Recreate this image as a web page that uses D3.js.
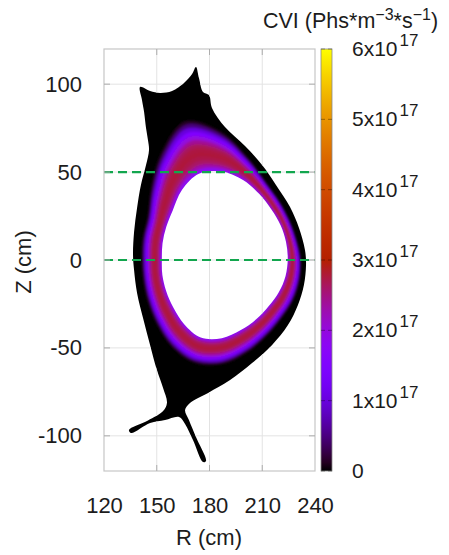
<!DOCTYPE html>
<html>
<head>
<meta charset="utf-8">
<script src="https://cdn.jsdelivr.net/npm/d3@7"></script>
<style>
  body { margin: 0; background: #fff; }
  text { font-family: "Liberation Sans", Arial, sans-serif; fill: #1c1c1c; }
</style>
</head>
<body>
<script>
// CVI emissivity, poloidal cross-section (R, Z in cm)

// axis ticks
var rTicks = [120, 150, 180, 210, 240];
var zTicks = [-100, -50, 0, 50, 100];
var cbTicks = [0, 1, 2, 3, 4, 5, 6];   /* units of 1e17 */
var chordZ = [0, 50];                   /* the two green lines */

// outer boundary of the black (zero emission) region, incl. divertor legs
var edgeR = [140.5, 146.2, 151.9, 158.7, 165.5, 170.1, 172.3, 174.0, 176.3, 179.7, 181.4, 188.8, 200.2, 209.9,
  217.8, 225.8, 230.9, 234.3, 234.9, 233.7, 230.3, 224.6, 215.6, 204.2, 191.7, 179.2, 168.9, 166.1,
  168.3, 172.3, 178.0, 176.3, 170.6, 166.1, 162.7, 154.7, 146.2, 135.4, 134.2, 145.0, 153.6, 155.8,
  153.6, 150.1, 146.2, 142.2, 138.8, 137.1, 136.5, 137.1, 138.8, 141.0, 143.9, 145.6, 145.0, 143.9, 142.8, 141.6];
var edgeZ = [98.4, 96.1, 95.0, 96.1, 100.7, 105.8, 109.8, 103.5, 95.6, 93.8, 86.5, 75.6, 64.8, 54.0,
  42.7, 30.1, 18.2, 5.7, -2.8, -14.2, -25.6, -37.0, -48.3, -58.6, -68.3, -75.6, -81.3, -85.3,
  -91.0, -100.7, -114.3, -114.9, -102.4, -93.3, -89.3, -91.0, -92.7, -98.4, -96.7, -91.3, -85.9, -81.3,
  -72.8, -62.6, -48.3, -33.0, -18.8, -5.7, 2.8, 15.9, 29.6, 42.7, 54.0, 62.6, 68.3, 75.1, 84.2, 91.0];

// emission shell around the axis, in polar form
var axisR = 187, axisZ = 0.5;
var ringAngle = [0, 15, 30, 45, 60, 75, 90, 105, 120, 135, 150, 165, 180, 195, 210, 225, 240, 255, 270, 285, 300, 315, 330, 345];
var coreRadius  = [37.5, 37.8, 38.6, 39.9, 42.7, 46.6, 49.8, 50.3, 45.4, 39.4, 36.5, 34.9, 34.1, 35.0, 36.5, 39.0, 42.8, 46.2, 45.0, 41.8, 39.4, 37.8, 37.5, 37.5];
var shellRadius = [45.0, 44.0, 44.5, 46.5, 50.5, 59.2, 72.2, 81.2, 69.3, 57.0, 48.7, 46.6, 45.6, 46.3, 48.6, 52.4, 57.4, 61.0, 59.8, 55.1, 50.7, 47.9, 46.9, 45.9];

// CVI across the shell: band outer position (0 = core edge, 1 = fade out) and value (1e17)
var bandOuter = [1.00, 0.93, 0.86, 0.78, 0.70, 0.62, 0.54, 0.46, 0.38, 0.30, 0.22, 0.14, 0.07];
var bandCVI   = [0.15, 0.50, 1.00, 1.50, 2.00, 2.40, 2.65, 2.75, 2.78, 2.72, 2.60, 2.30, 1.80];

var W = 449, H = 555;
var plot = { left: 104, right: 315, top: 49, bottom: 471 };
var cbar = { left: 321, right: 332 };

var x = d3.scaleLinear().domain([120, 240]).range([plot.left, plot.right]);
var y = d3.scaleLinear().domain([-120, 120]).range([plot.bottom, plot.top]);
var cy = d3.scaleLinear().domain([0, 6]).range([plot.bottom, plot.top]);

// gnuplot default pm3d palette (rgbformulae 7,5,15)
var pm3d = function(t) {
  t = Math.max(0, Math.min(1, t));
  let b = Math.max(0, Math.sin(2 * Math.PI * t));
  return d3.rgb(255 * Math.sqrt(t), 255 * t * t * t, 255 * b).formatHex();
};
var colour = d3.scaleLinear().domain([0, 6]).range([0, 1]);

var line = d3.line()
  .x(d => x(d[0]))
  .y(d => y(d[1]))
  .curve(d3.curveCatmullRomClosed.alpha(0.5));

var edgePts = edgeR.map((r, i) => [r, edgeZ[i]]);

var ringPts = function(s) {
  return ringAngle.map((a, i) => {
    let rad = coreRadius[i] + s * (shellRadius[i] - coreRadius[i]);
    let th = a * Math.PI / 180;
    return [axisR + rad * Math.cos(th), axisZ + rad * Math.sin(th)];
  });
};

var svg = d3.select('body').append('svg')
  .attr('width', W).attr('height', H);

var defs = svg.append('defs');
defs.append('filter').attr('id', 'soft')
  .append('feGaussianBlur').attr('stdDeviation', 1.3);
defs.append('clipPath').attr('id', 'edgeClip')
  .append('path').attr('d', line(edgePts));

var rectPath = 'M' + plot.left + ',' + plot.top + 'H' + plot.right + 'V' + plot.bottom + 'H' + plot.left + 'Z';
defs.append('clipPath').attr('id', 'gridClip')
  .append('path')
  .attr('clip-rule', 'evenodd')
  .attr('d', rectPath + line(edgePts) + line(ringPts(0)));

var grad = defs.append('linearGradient').attr('id', 'cbGrad')
  .attr('x1', 0).attr('y1', 1).attr('x2', 0).attr('y2', 0);
d3.range(0, 1.0001, 0.02).forEach(t => {
  grad.append('stop').attr('offset', t).attr('stop-color', pm3d(t));
});

// black region
svg.append('path').attr('d', line(edgePts)).attr('fill', '#000');

// emission bands, outermost first
var bands = svg.append('g').attr('clip-path', 'url(#edgeClip)')
  .append('g').attr('filter', 'url(#soft)');
bandOuter.forEach((s, i) => {
  bands.append('path')
    .attr('d', line(ringPts(s)))
    .attr('fill', pm3d(colour(bandCVI[i])));
});

// empty core
svg.append('path').attr('d', line(ringPts(0))).attr('fill', '#fff');

// grid, only where nothing is painted
var grid = svg.append('g').attr('clip-path', 'url(#gridClip)')
  .attr('stroke', '#e3e3e3').attr('stroke-width', 1);
rTicks.slice(1, -1).forEach(r => {
  grid.append('line').attr('x1', x(r)).attr('x2', x(r)).attr('y1', plot.top).attr('y2', plot.bottom);
});
zTicks.forEach(z => {
  grid.append('line').attr('x1', plot.left).attr('x2', plot.right).attr('y1', y(z)).attr('y2', y(z));
});

// green chords
chordZ.forEach(z => {
  svg.append('line')
    .attr('x1', plot.left).attr('x2', plot.right)
    .attr('y1', y(z)).attr('y2', y(z))
    .attr('stroke', '#12a64e').attr('stroke-width', 2.2)
    .attr('stroke-dasharray', '9,5');
});

// frame and inner ticks
svg.append('rect')
  .attr('x', plot.left).attr('y', plot.top)
  .attr('width', plot.right - plot.left).attr('height', plot.bottom - plot.top)
  .attr('fill', 'none').attr('stroke', '#c6c6c6').attr('stroke-width', 1.2);
var ticks = svg.append('g').attr('stroke', '#adadad').attr('stroke-width', 1);
rTicks.slice(1, -1).forEach(r => {
  ticks.append('line').attr('x1', x(r)).attr('x2', x(r)).attr('y1', plot.bottom).attr('y2', plot.bottom - 6);
  ticks.append('line').attr('x1', x(r)).attr('x2', x(r)).attr('y1', plot.top).attr('y2', plot.top + 6);
});
zTicks.forEach(z => {
  ticks.append('line').attr('x1', plot.left).attr('x2', plot.left + 6).attr('y1', y(z)).attr('y2', y(z));
  ticks.append('line').attr('x1', plot.right).attr('x2', plot.right - 6).attr('y1', y(z)).attr('y2', y(z));
});

// tick labels through d3 axes
var xAxis = svg.append('g')
  .attr('transform', 'translate(0,' + plot.bottom + ')')
  .call(d3.axisBottom(x).tickValues(rTicks).tickSize(0).tickPadding(26));
var yAxis = svg.append('g')
  .attr('transform', 'translate(' + plot.left + ',0)')
  .call(d3.axisLeft(y).tickValues(zTicks).tickSize(0).tickPadding(22).tickFormat(d3.format('d')));
[xAxis, yAxis].forEach(a => {
  a.select('.domain').remove();
  a.selectAll('text')
    .style('font-family', '"Liberation Sans", Arial, sans-serif')
    .style('font-size', '22px')
    .attr('fill', '#1c1c1c');
});
yAxis.selectAll('text').text(d => String(d).replace('\u2212', '-'));

svg.append('text')
  .attr('x', 209).attr('y', 545)
  .attr('text-anchor', 'middle').style('font-size', '22px')
  .text('R (cm)');
svg.append('text')
  .attr('transform', 'translate(31,262) rotate(-90)')
  .attr('text-anchor', 'middle').style('font-size', '22px')
  .text('Z (cm)');

// colour bar
svg.append('rect')
  .attr('x', cbar.left).attr('y', plot.top)
  .attr('width', cbar.right - cbar.left).attr('height', plot.bottom - plot.top)
  .attr('fill', 'url(#cbGrad)').attr('stroke', '#8a8a8a').attr('stroke-width', 0.8);
var cbTickG = svg.append('g').attr('stroke', '#000').attr('stroke-opacity', 0.35);
cbTicks.forEach(v => {
  cbTickG.append('line').attr('x1', cbar.left).attr('x2', cbar.left + 4).attr('y1', cy(v)).attr('y2', cy(v));
  cbTickG.append('line').attr('x1', cbar.right).attr('x2', cbar.right - 4).attr('y1', cy(v)).attr('y2', cy(v));

  let t = svg.append('text')
    .attr('x', 352).attr('y', cy(v) + 7)
    .style('font-size', '21px');
  if (v === 0) {
    t.text('0');
  } else {
    t.append('tspan').text(v + 'x10');
    t.append('tspan').attr('dx', 2).attr('dy', -10).style('font-size', '17px').text('17');
  }
});

var title = svg.append('text').attr('x', 263).attr('y', 28).style('font-size', '21.5px');
title.append('tspan').text('CVI (Phs*m');
title.append('tspan').attr('dy', -8).style('font-size', '16px').text('\u22123');
title.append('tspan').attr('dy', 8).text('*s');
title.append('tspan').attr('dy', -8).style('font-size', '16px').text('\u22121');
title.append('tspan').attr('dy', 8).text(')');
</script>
</body>
</html>
